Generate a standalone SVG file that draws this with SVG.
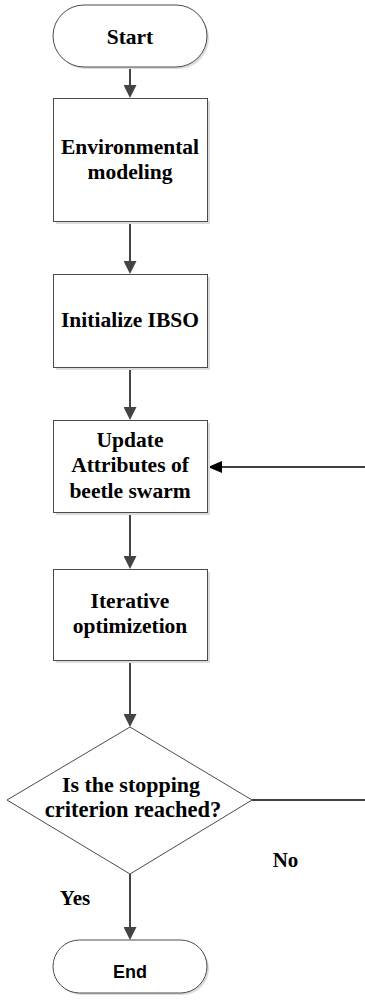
<svg xmlns="http://www.w3.org/2000/svg" width="365" height="1005" viewBox="0 0 365 1005">
  <style>
    .shape { fill: #ffffff; stroke: #4a4a4a; stroke-width: 1; }
    .shadow { fill: #dcdcdc; stroke: none; }
    .label { font-family: "Liberation Serif", "Times New Roman", serif; font-weight: bold; font-size: 21.5px; fill: #000000; text-anchor: middle; }
    .branch { font-size: 21px; }
    .sans { font-family: "Liberation Sans", Arial, sans-serif; font-weight: bold; font-size: 18px; fill: #000000; text-anchor: middle; }
    .flow { stroke: #444444; stroke-width: 2; fill: none; }
    .back { stroke: #000000; stroke-width: 1.6; fill: none; }
  </style>
  <defs>
    <marker id="arrow" markerUnits="userSpaceOnUse" markerWidth="13" markerHeight="13" refX="7" refY="6.5" orient="auto">
      <path d="M0,0 L13,6.5 L0,13 z" fill="#444444"/>
    </marker>
    <marker id="arrowBlack" markerUnits="userSpaceOnUse" markerWidth="14" markerHeight="12" refX="7" refY="6" orient="auto">
      <path d="M0,0 L14,6 L0,12 z" fill="#000000"/>
    </marker>
  </defs>

  <rect width="365" height="1005" fill="#ffffff"/>

  <!-- connectors -->
  <g id="connectors">
    <line class="flow" x1="130" y1="67" x2="130" y2="92" marker-end="url(#arrow)"/>
    <line class="flow" x1="130" y1="221" x2="130" y2="268" marker-end="url(#arrow)"/>
    <line class="flow" x1="130" y1="367" x2="130" y2="414" marker-end="url(#arrow)"/>
    <line class="flow" x1="130" y1="512" x2="130" y2="563" marker-end="url(#arrow)"/>
    <line class="flow" x1="130" y1="660" x2="130" y2="721" marker-end="url(#arrow)"/>
    <line class="flow" x1="130" y1="874" x2="130" y2="934" marker-end="url(#arrow)"/>
    <!-- "No" branch back to the update step -->
    <line class="back" x1="252" y1="800" x2="365" y2="800"/>
    <line class="back" x1="365" y1="467" x2="215" y2="467" marker-end="url(#arrowBlack)"/>
    <text class="label branch" x="285.5" y="867">No</text>
    <text class="label branch" x="75" y="905">Yes</text>
  </g>

  <!-- nodes -->
  <g id="start">
    <rect class="shadow" x="55" y="7" width="154" height="62" rx="31"/>
    <rect class="shape" x="53" y="5" width="154" height="62" rx="31"/>
    <text class="label" x="130" y="44">Start</text>
  </g>

  <g id="environment">
    <rect class="shadow" x="56" y="101" width="154" height="123"/>
    <rect class="shape" x="53.5" y="98.5" width="154" height="123"/>
    <text class="label" x="130" y="154">Environmental</text>
    <text class="label" x="130" y="179">modeling</text>
  </g>

  <g id="initialize">
    <rect class="shadow" x="56" y="277" width="154" height="93"/>
    <rect class="shape" x="53.5" y="274.5" width="154" height="93"/>
    <text class="label" x="130" y="327">Initialize IBSO</text>
  </g>

  <g id="update">
    <rect class="shadow" x="56" y="423" width="154" height="92"/>
    <rect class="shape" x="53.5" y="420.5" width="154" height="92"/>
    <text class="label" x="130" y="447">Update</text>
    <text class="label" x="130" y="472">Attributes of</text>
    <text class="label" x="130" y="498">beetle swarm</text>
  </g>

  <g id="iterate">
    <rect class="shadow" x="56" y="572" width="154" height="91"/>
    <rect class="shape" x="53.5" y="569.5" width="154" height="91"/>
    <text class="label" x="130" y="608">Iterative</text>
    <text class="label" x="130" y="633">optimizetion</text>
  </g>

  <g id="decision">
    <polygon class="shape" points="130,727 252,800 130,874 7,800"/>
    <text class="label" x="131" y="792" style="font-size:22px">Is the stopping</text>
    <text class="label" x="133" y="817" style="font-size:22.5px">criterion reached?</text>
  </g>

  <g id="end">
    <rect class="shadow" x="55" y="942" width="154" height="53" rx="26.5"/>
    <rect class="shape" x="53" y="940" width="154" height="53" rx="26.5"/>
    <text class="sans" x="130" y="978">End</text>
  </g>
</svg>
